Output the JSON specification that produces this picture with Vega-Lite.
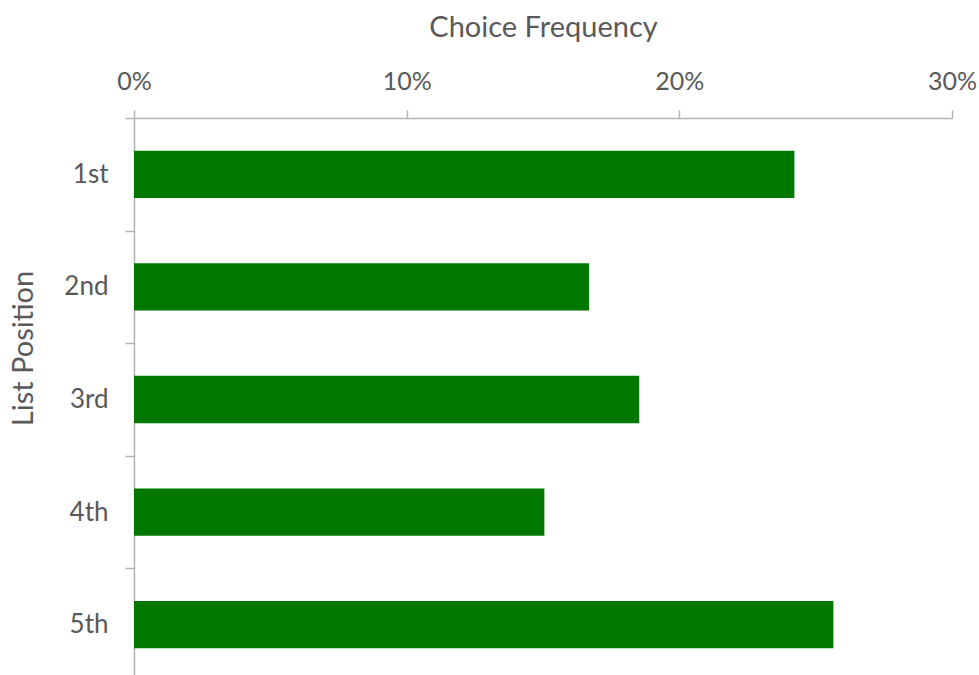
{
  "$schema": "https://vega.github.io/schema/vega-lite/v6.json",
  "autosize": "none",
  "padding": {"left": 134, "top": 118, "right": 27, "bottom": 0},
  "width": 818,
  "height": 557,
  "background": "white",
  "config": {"view": {"stroke": null}, "font": "Lato"},
  "data": {"values": [
    {"position": "1st", "freq": 0.2422},
    {"position": "2nd", "freq": 0.1669},
    {"position": "3rd", "freq": 0.1853},
    {"position": "4th", "freq": 0.1505},
    {"position": "5th", "freq": 0.2565}
  ]},
  "mark": {"type": "bar", "color": "#007800", "height": {"band": 0.42}},
  "encoding": {
    "y": {
      "field": "position", "type": "nominal", "sort": null,
      "scale": {"paddingInner": 0, "paddingOuter": 0, "range": [0, 563]},
      "axis": {
        "title": "List Position", "titleFont": "Lato", "titleFontSize": 29, "titleFontWeight": "normal", "titleColor": "#595959", "titlePadding": 25, "titleY": 230,
        "labelFont": "Lato", "labelFontSize": 26, "labelColor": "#595959", "labelPadding": 17,
        "tickBand": "extent", "tickSize": 9, "tickColor": "#b3b3b3", "tickWidth": 1.5,
        "domainColor": "#b3b3b3", "domainWidth": 1.5, "grid": false
      }
    },
    "x": {
      "field": "freq", "type": "quantitative",
      "scale": {"domain": [0, 0.3], "nice": false},
      "axis": {
        "orient": "top", "values": [0, 0.1, 0.2, 0.3], "format": ".0%",
        "title": "Choice Frequency", "titleFont": "Lato", "titleFontSize": 29, "titleFontWeight": "normal", "titleColor": "#595959", "titlePadding": 27,
        "labelFont": "Lato", "labelFontSize": 25, "labelColor": "#595959", "labelPadding": 16, "labelFlush": false,
        "tickSize": 8, "tickColor": "#b3b3b3", "tickWidth": 1.5,
        "domainColor": "#b3b3b3", "domainWidth": 1.5, "grid": false
      }
    }
  }
}
